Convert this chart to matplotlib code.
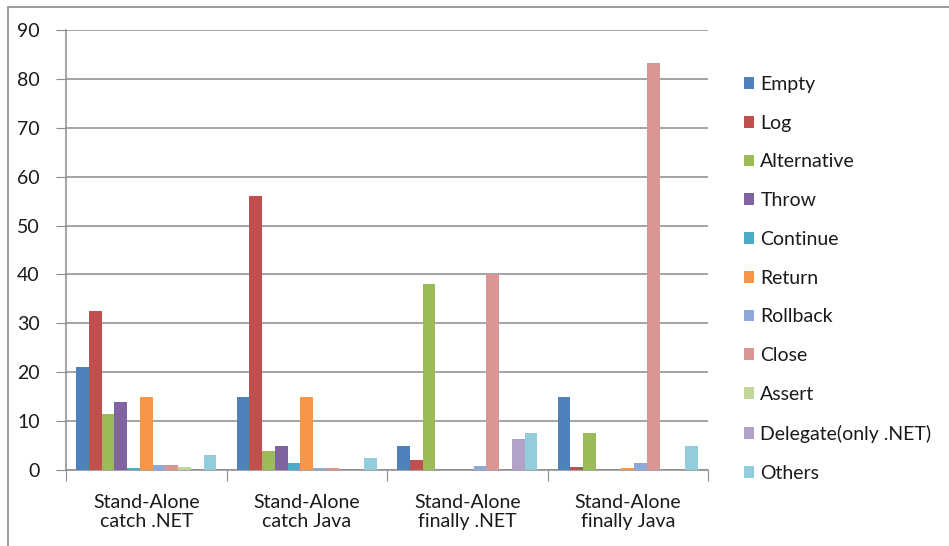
import numpy as np
import matplotlib
matplotlib.use('Agg')
import matplotlib.pyplot as plt
from matplotlib.patches import Rectangle, Patch

plt.rcParams['font.family'] = ['Lato', 'DejaVu Sans']

groups = ['Stand-Alone\ncatch .NET', 'Stand-Alone\ncatch Java',
          'Stand-Alone\nfinally .NET', 'Stand-Alone\nfinally Java']

series = ['Empty', 'Log', 'Alternative', 'Throw', 'Continue', 'Return',
          'Rollback', 'Close', 'Assert', 'Delegate(only .NET)', 'Others']

colors = ['#4F81BD', '#C0504D', '#9BBB59', '#8064A2', '#4BACC6', '#F79646',
          '#8EA9D8', '#D99694', '#C3D69B', '#B3A2C7', '#93CDDD']

# one row per series, one column per group
empty       = [21.0, 15.0, 5.0, 15.0]
log         = [32.5, 56.0, 2.0, 0.6]
alternative = [11.5, 3.9, 38.0, 7.5]
throw       = [14.0, 5.0, 0.0, 0.0]
cont        = [0.4, 1.5, 0.0, 0.0]
ret         = [15.0, 15.0, 0.0, 0.4]
rollback    = [1.0, 0.4, 0.8, 1.5]
close       = [1.0, 0.4, 40.0, 83.3]
assert_     = [0.6, 0.0, 0.0, 0.0]
delegate    = [0.0, 0.0, 6.4, 0.0]
others      = [3.0, 2.4, 7.5, 5.0]

values = [empty, log, alternative, throw, cont, ret,
          rollback, close, assert_, delegate, others]

W, H = 949, 546
fig = plt.figure(figsize=(W / 100, H / 100), dpi=100)
fig.patch.set_facecolor('white')

# outer chart-area frame
fig.patches.append(Rectangle((8 / W, -0.05), 1.1, 1 - 7 / H + 0.05,
                             transform=fig.transFigure, fill=False,
                             edgecolor='#8a8a8a', linewidth=1.2))

ax = fig.add_axes([66 / W, 1 - 470 / H, (708 - 66) / W, (470 - 30) / H])

n = len(series)
bw = 0.0794
x = np.arange(len(groups))
offsets = (np.arange(n) - (n - 1) / 2) * bw

for i, (name, vals) in enumerate(zip(series, values)):
    ax.bar(x + offsets[i], vals, width=bw, color=colors[i], label=name,
           linewidth=0, zorder=3)

ax.set_xlim(-0.5, len(groups) - 0.5)
ax.set_ylim(0, 90)
ax.set_yticks(range(0, 91, 10))
ax.yaxis.grid(True, color='#8c8c8c', linewidth=1.1, zorder=0)
ax.set_axisbelow(True)

for s in ['top', 'right']:
    ax.spines[s].set_visible(False)
for s in ['left', 'bottom']:
    ax.spines[s].set_color('#8c8c8c')
    ax.spines[s].set_linewidth(1.1)

# group boundary ticks on x, labels at group centres
ax.set_xticks(np.arange(-0.5, len(groups)), minor=False)
ax.set_xticklabels([''] * (len(groups) + 1))
ax.set_xticks(x, minor=True)
ax.set_xticklabels(groups, minor=True, fontsize=14, color='#1a1a1a',
                   linespacing=1.2)
ax.tick_params(axis='x', which='major', length=8, color='#8c8c8c')
ax.tick_params(axis='x', which='minor', length=0, pad=17)
ax.tick_params(axis='y', length=7, color='#8c8c8c', labelsize=14,
               labelcolor='#1a1a1a', pad=12)

handles = [Patch(facecolor=c, edgecolor='none') for c in colors]
fig.legend(handles, series, loc='upper left',
           bbox_to_anchor=(736 / W, 1 - 68 / H), frameon=False,
           fontsize=14, handlelength=0.55, handleheight=0.55,
           handletextpad=0.3, labelspacing=1.12, borderaxespad=0,
           labelcolor='#1a1a1a')

fig.savefig('out.png', dpi=100, facecolor='white')
